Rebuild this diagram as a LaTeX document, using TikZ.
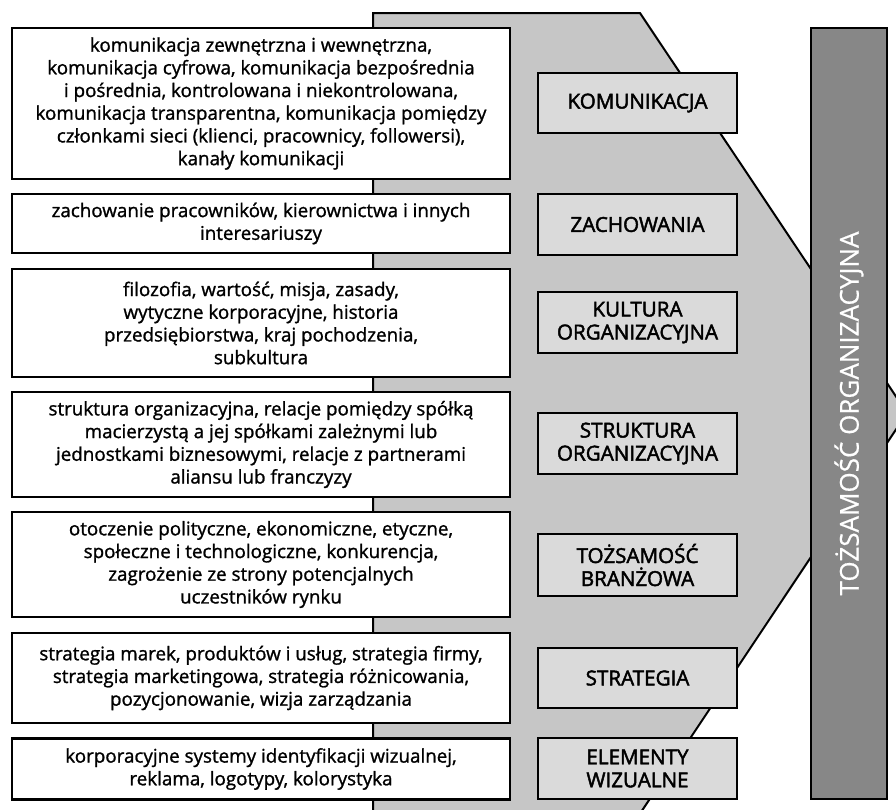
\documentclass[tikz,border=0pt]{standalone}
\usepackage{fontspec}
\setmainfont{Open Sans}
\newfontfamily\bodyfont{Open Sans}[FakeBold=1.2]
\newfontfamily\labfont{Open Sans}[FakeBold=2.2]
\newfontfamily\titlefont{Open Sans}[FakeBold=0.6]
\definecolor{pentgray}{HTML}{C6C6C6}
\definecolor{labgray}{HTML}{DADADA}
\definecolor{bargray}{HTML}{878787}
\tikzset{
  pent/.style={fill=pentgray, draw=black, line width=2pt, line join=miter},
  wbox/.style={draw=black, fill=white, line width=2.3pt, inner sep=0pt,
    minimum width=498pt, align=center,
    font=\bodyfont\fontsize{18.8}{22.7}\selectfont},
  lbox/.style={draw=black, fill=labgray, line width=2.3pt, inner sep=0pt,
    minimum width=199pt, align=center,
    font=\labfont\fontsize{20.6}{23}\selectfont},
  barbox/.style={draw=black, fill=bargray, line width=2.3pt, inner sep=0pt,
    text=white, font=\titlefont\fontsize{26}{28}\selectfont}
}
\begin{document}
\begin{tikzpicture}[x=1pt,y=-1pt]
\useasboundingbox (0,0) rectangle (896,809);
\begin{scope}
  \clip (0,0) rectangle (896,809);
  \draw[pent] (373,13) -- (640,13) -- (907,413) -- (635.7,820) -- (373,820) -- cycle;
\end{scope}
% description boxes
\node[wbox, minimum height=151pt] (d1) at (261,103.5) {komunikacja zewnętrzna i wewnętrzna,\\komunikacja cyfrowa, komunikacja bezpośrednia\\i pośrednia, kontrolowana i niekontrolowana,\\komunikacja transparentna, komunikacja pomiędzy\\członkami sieci (klienci, pracownicy, followersi),\\kanały komunikacji};
\node[wbox, minimum height=59pt] (d2) at (261,223.5) {zachowanie pracowników, kierownictwa i innych\\interesariuszy};
\node[wbox, minimum height=108pt] (d3) at (261,323) {filozofia, wartość, misja, zasady,\\wytyczne korporacyjne, historia\\przedsiębiorstwa, kraj pochodzenia,\\subkultura};
\node[wbox, minimum height=105pt] (d4) at (261,444.5) {struktura organizacyjna, relacje pomiędzy spółką\\macierzystą a jej spółkami zależnymi lub\\jednostkami biznesowymi, relacje z partnerami\\aliansu lub franczyzy};
\node[wbox, minimum height=105pt] (d5) at (261,564.5) {otoczenie polityczne, ekonomiczne, etyczne,\\społeczne i technologiczne, konkurencja,\\zagrożenie ze strony potencjalnych\\uczestników rynku};
\node[wbox, minimum height=90pt] (d6) at (261,678) {strategia marek, produktów i usług, strategia firmy,\\strategia marketingowa, strategia różnicowania,\\pozycjonowanie, wizja zarządzania};
\node[wbox, minimum height=61pt] (d7) at (261,769) {korporacyjne systemy identyfikacji wizualnej,\\reklama, logotypy, kolorystyka};
% label boxes
\node[lbox, minimum height=60pt] (l1) at (637.5,103) {KOMUNIKACJA};
\node[lbox, minimum height=61pt] (l2) at (637.5,224.5) {ZACHOWANIA};
\node[lbox, minimum height=61pt] (l3) at (637.5,322.5) {KULTURA\\ORGANIZACYJNA};
\node[lbox, minimum height=61pt] (l4) at (637.5,443.5) {STRUKTURA\\ORGANIZACYJNA};
\node[lbox, minimum height=62pt] (l5) at (637.5,565) {TOŻSAMOŚĆ\\BRANŻOWA};
\node[lbox, minimum height=60pt] (l6) at (637.5,678) {STRATEGIA};
\node[lbox, minimum height=61pt] (l7) at (637.5,768.5) {ELEMENTY\\WIZUALNE};
% identity bar
\node[barbox, rotate=90, minimum width=771pt, minimum height=76pt] (t) at (849,413.5) {TOŻSAMOŚĆ ORGANIZACYJNA};
\end{tikzpicture}
\end{document}
